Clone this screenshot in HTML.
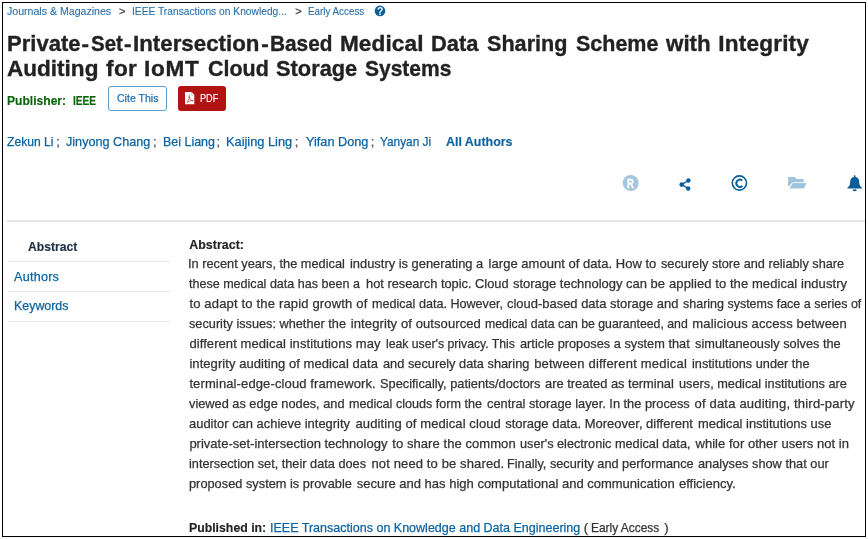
<!DOCTYPE html>
<html><head><meta charset="utf-8">
<style>
html,body{margin:0;padding:0;background:#fff;}
body{width:868px;height:539px;position:relative;overflow:hidden;font-family:"Liberation Sans",Arial,sans-serif;}
.t{position:absolute;white-space:pre;transform-origin:0 0;-webkit-text-stroke:0.25px currentColor;}
.frame{position:absolute;left:2px;top:2px;width:862px;height:533px;border:1px solid #000;}
.hr{position:absolute;background:#e3e3e3;}
.btn{position:absolute;box-sizing:border-box;border-radius:3px;}
svg{position:absolute;overflow:visible;}
</style></head>
<body>
<div class="frame"></div>
<!-- separator -->
<div class="hr" style="left:7px;top:220px;width:858px;height:2px;background:#e6e6e6"></div>
<!-- sidebar lines -->
<div class="hr" style="left:8px;top:261px;width:162px;height:1px;background:#e8e8e8"></div>
<div class="hr" style="left:8px;top:291px;width:162px;height:1px;background:#e8e8e8"></div>
<div class="hr" style="left:8px;top:321px;width:162px;height:1px;background:#e8e8e8"></div>
<!-- buttons -->
<div class="btn" style="left:108px;top:86px;width:59px;height:25px;border:1px solid #5f9ecb;"></div>
<div class="btn" style="left:178px;top:86px;width:48px;height:24.5px;background:#b11212;"></div>
<!-- pdf icon -->
<svg style="left:0;top:0" width="868" height="539">
  <path d="M185 92 H191.5 L194.3 94.8 V104.3 H185 Z" fill="#fff"/>
  <path d="M191.5 92 V94.8 H194.3" fill="none" stroke="#d9a0a0" stroke-width="0.6"/>
  <path d="M187.2 102.5 C188.5 100 190 97 189.6 95.6 C189.2 94.6 188.6 95.6 189.2 97.4 C189.9 99.3 191.5 101 192.8 101.1 C193.8 101.2 193.5 100.4 192.3 100.4 C190.6 100.4 188.3 101.5 187.2 102.5 Z" fill="none" stroke="#c0392b" stroke-width="0.7"/>
  <!-- help icon -->
  <circle cx="380" cy="10.9" r="5.3" fill="#0a5d9a"/>
  <text x="380.1" y="14.6" text-anchor="middle" font-family="Liberation Sans" font-weight="700" font-size="10.3" fill="#fff">?</text>
  <!-- R icon -->
  <circle cx="630.7" cy="183" r="8" fill="#a4c6de"/>
  <text x="627.1" y="187.7" textLength="7" lengthAdjust="spacingAndGlyphs" font-family="Liberation Sans" font-weight="700" font-size="13" fill="#fff" stroke="#fff" stroke-width="0.3">R</text>
  <!-- share -->
  <g fill="#0a5c9b" stroke="#0a5c9b">
    <line x1="681.7" y1="184.6" x2="688.4" y2="180.5" stroke-width="1.4"/>
    <line x1="681.7" y1="184.6" x2="688.2" y2="188.5" stroke-width="1.4"/>
    <circle cx="688.4" cy="180.5" r="2.2" stroke="none"/>
    <circle cx="681.7" cy="184.6" r="2.3" stroke="none"/>
    <circle cx="688.2" cy="188.5" r="2.2" stroke="none"/>
  </g>
  <!-- copyright -->
  <circle cx="739.4" cy="183" r="7.1" fill="none" stroke="#0a5c9b" stroke-width="1.6"/>
  <path d="M742.2 180.5 A3.6 3.6 0 1 0 742.4 186" fill="none" stroke="#0a5c9b" stroke-width="1.9"/>
  <!-- folder -->
  <path d="M788.1 176.9 H795 L796.4 178.9 H803.6 V183 H792 L788.1 187 Z" fill="#9ec3dc"/>
  <path d="M792.6 182.6 H807.2 L804.1 188.9 H788.7 Z" fill="#9ec3dc" stroke="#fff" stroke-width="0.9" stroke-linejoin="round"/>
  <!-- bell -->
  <path d="M854.7 175.1 C855.3 175.1 855.6 176 855.5 177.1 C857.8 177.6 859.2 179.2 859.2 181.8 C859.2 184.5 859.6 186.1 862 187.7 V188.4 H847.4 V187.7 C849.8 186.1 850.2 184.5 850.2 181.8 C850.2 179.2 851.6 177.6 853.9 177.1 C853.8 176 854.1 175.1 854.7 175.1 Z" fill="#0a5c9b"/>
  <ellipse cx="854.7" cy="190.3" rx="2" ry="1" fill="#0a5c9b"/>
</svg>
<div class="t" style="left:6.50px;top:3.80px;font-size:11.2px;line-height:15px;-webkit-text-stroke:0.12px currentColor;color:#2a70a8;transform:scaleX(0.9459);">Journals &amp; Magazines</div>
<div class="t" style="left:119.10px;top:3.80px;font-size:11.2px;line-height:15px;color:#444;">&gt;</div>
<div class="t" style="left:131.78px;top:3.80px;font-size:11.2px;line-height:15px;-webkit-text-stroke:0.12px currentColor;color:#2a70a8;transform:scaleX(0.9153);">IEEE Transactions on Knowledg...</div>
<div class="t" style="left:295.25px;top:3.80px;font-size:11.2px;line-height:15px;color:#444;">&gt;</div>
<div class="t" style="left:308.40px;top:3.80px;font-size:11.2px;line-height:15px;-webkit-text-stroke:0.12px currentColor;color:#2a70a8;transform:scaleX(0.8776);">Early Access</div>
<div class="t" style="left:6.82px;top:29.00px;font-size:22.6px;line-height:30px;font-weight:700;-webkit-text-stroke:0.35px currentColor;color:#222222;transform:scaleX(0.9757);">Private</div>
<div class="t" style="left:81.60px;top:29.00px;font-size:22.6px;line-height:30px;font-weight:700;-webkit-text-stroke:0.35px currentColor;color:#222222;">-</div>
<div class="t" style="left:91.30px;top:29.00px;font-size:22.6px;line-height:30px;font-weight:700;-webkit-text-stroke:0.35px currentColor;color:#222222;transform:scaleX(0.9064);">Set</div>
<div class="t" style="left:124.00px;top:29.00px;font-size:22.6px;line-height:30px;font-weight:700;-webkit-text-stroke:0.35px currentColor;color:#222222;">-</div>
<div class="t" style="left:132.71px;top:29.00px;font-size:22.6px;line-height:30px;font-weight:700;-webkit-text-stroke:0.35px currentColor;color:#222222;transform:scaleX(0.9876);">Intersection</div>
<div class="t" style="left:261.25px;top:29.00px;font-size:22.6px;line-height:30px;font-weight:700;-webkit-text-stroke:0.35px currentColor;color:#222222;">-</div>
<div class="t" style="left:270.48px;top:29.00px;font-size:22.6px;line-height:30px;font-weight:700;-webkit-text-stroke:0.35px currentColor;color:#222222;transform:scaleX(0.9210);">Based</div>
<div class="t" style="left:339.90px;top:29.00px;font-size:22.6px;line-height:30px;font-weight:700;-webkit-text-stroke:0.35px currentColor;color:#222222;letter-spacing:0.117px;">Medical</div>
<div class="t" style="left:431.03px;top:29.00px;font-size:22.6px;line-height:30px;font-weight:700;-webkit-text-stroke:0.35px currentColor;color:#222222;transform:scaleX(0.9668);">Data</div>
<div class="t" style="left:487.40px;top:29.00px;font-size:22.6px;line-height:30px;font-weight:700;-webkit-text-stroke:0.35px currentColor;color:#222222;transform:scaleX(0.9567);">Sharing</div>
<div class="t" style="left:575.70px;top:29.00px;font-size:22.6px;line-height:30px;font-weight:700;-webkit-text-stroke:0.35px currentColor;color:#222222;transform:scaleX(0.9513);">Scheme</div>
<div class="t" style="left:665.59px;top:29.00px;font-size:22.6px;line-height:30px;font-weight:700;-webkit-text-stroke:0.35px currentColor;color:#222222;transform:scaleX(0.9895);">with</div>
<div class="t" style="left:718.30px;top:29.00px;font-size:22.6px;line-height:30px;font-weight:700;-webkit-text-stroke:0.35px currentColor;color:#222222;letter-spacing:0.180px;">Integrity</div>
<div class="t" style="left:6.90px;top:54.20px;font-size:22.6px;line-height:30px;font-weight:700;-webkit-text-stroke:0.35px currentColor;color:#222222;transform:scaleX(0.9978);">Auditing</div>
<div class="t" style="left:106.10px;top:54.20px;font-size:22.6px;line-height:30px;font-weight:700;-webkit-text-stroke:0.35px currentColor;color:#222222;letter-spacing:0.337px;">for</div>
<div class="t" style="left:144.10px;top:54.20px;font-size:22.6px;line-height:30px;font-weight:700;-webkit-text-stroke:0.35px currentColor;color:#222222;letter-spacing:0.667px;">IoMT</div>
<div class="t" style="left:207.60px;top:54.20px;font-size:22.6px;line-height:30px;font-weight:700;-webkit-text-stroke:0.35px currentColor;color:#222222;transform:scaleX(0.9494);">Cloud</div>
<div class="t" style="left:276.30px;top:54.20px;font-size:22.6px;line-height:30px;font-weight:700;-webkit-text-stroke:0.35px currentColor;color:#222222;transform:scaleX(0.9658);">Storage</div>
<div class="t" style="left:365.20px;top:54.20px;font-size:22.6px;line-height:30px;font-weight:700;-webkit-text-stroke:0.35px currentColor;color:#222222;transform:scaleX(0.9288);">Systems</div>
<div class="t" style="left:7.10px;top:91.60px;font-size:13px;line-height:17px;font-weight:700;-webkit-text-stroke:0.15px currentColor;color:#0a650a;transform:scaleX(0.9298);">Publisher:</div>
<div class="t" style="left:73.40px;top:91.60px;font-size:13px;line-height:17px;font-weight:700;-webkit-text-stroke:0.15px currentColor;color:#0a650a;transform:scaleX(0.7812);">IEEE</div>
<div class="t" style="left:116.90px;top:90.60px;font-size:11.0px;line-height:15px;color:#2472b0;transform:scaleX(0.9590);">Cite This</div>
<div class="t" style="left:199.80px;top:90.80px;font-size:11.0px;line-height:15px;-webkit-text-stroke:0.1px currentColor;color:#ffffff;transform:scaleX(0.8348);">PDF</div>
<div class="t" style="left:7.00px;top:132.70px;font-size:13px;line-height:17px;color:#0b63a1;transform:scaleX(0.9325);">Zekun Li</div>
<div class="t" style="left:66.40px;top:132.70px;font-size:13px;line-height:17px;color:#0b63a1;transform:scaleX(0.9711);">Jinyong Chang</div>
<div class="t" style="left:162.54px;top:132.70px;font-size:13px;line-height:17px;color:#0b63a1;transform:scaleX(0.9589);">Bei Liang</div>
<div class="t" style="left:226.11px;top:132.70px;font-size:13px;line-height:17px;color:#0b63a1;transform:scaleX(0.9851);">Kaijing Ling</div>
<div class="t" style="left:305.90px;top:132.70px;font-size:13px;line-height:17px;color:#0b63a1;transform:scaleX(0.9779);">Yifan Dong</div>
<div class="t" style="left:380.20px;top:132.70px;font-size:13px;line-height:17px;color:#0b63a1;transform:scaleX(0.9104);">Yanyan Ji</div>
<div class="t" style="left:56.25px;top:132.70px;font-size:13px;line-height:17px;color:#555;">;</div>
<div class="t" style="left:153.05px;top:132.70px;font-size:13px;line-height:17px;color:#555;">;</div>
<div class="t" style="left:216.55px;top:132.70px;font-size:13px;line-height:17px;color:#555;">;</div>
<div class="t" style="left:294.75px;top:132.70px;font-size:13px;line-height:17px;color:#555;">;</div>
<div class="t" style="left:370.75px;top:132.70px;font-size:13px;line-height:17px;color:#555;">;</div>
<div class="t" style="left:445.90px;top:132.70px;font-size:13px;line-height:17px;font-weight:700;-webkit-text-stroke:0.15px currentColor;color:#0b63a1;transform:scaleX(0.9553);">All Authors</div>
<div class="t" style="left:28.30px;top:238.80px;font-size:12.6px;line-height:17px;font-weight:700;-webkit-text-stroke:0.15px currentColor;color:#1b3048;transform:scaleX(0.9635);">Abstract</div>
<div class="t" style="left:14.10px;top:268.70px;font-size:12.6px;line-height:17px;color:#0b63a1;letter-spacing:0.233px;">Authors</div>
<div class="t" style="left:13.81px;top:298.40px;font-size:12.6px;line-height:17px;color:#0b63a1;transform:scaleX(0.9852);">Keywords</div>
<div class="t" style="left:189.30px;top:237.20px;font-size:12.4px;line-height:17px;font-weight:700;-webkit-text-stroke:0.15px currentColor;color:#222;letter-spacing:0.029px;">Abstract:</div>
<div class="t" style="left:188.42px;top:255.40px;font-size:13px;line-height:17px;color:#333333;transform:scaleX(0.9824);">In recent years, the medical</div>
<div class="t" style="left:350.00px;top:255.40px;font-size:13px;line-height:17px;color:#333333;transform:scaleX(0.9913);">industry is generating a</div>
<div class="t" style="left:488.60px;top:255.40px;font-size:13px;line-height:17px;color:#333333;letter-spacing:0.030px;">large amount of data. How to</div>
<div class="t" style="left:660.70px;top:255.40px;font-size:13px;line-height:17px;color:#333333;transform:scaleX(0.9785);">securely store and reliably share</div>
<div class="t" style="left:189.40px;top:275.33px;font-size:13px;line-height:17px;color:#333333;transform:scaleX(0.9649);">these medical data has been a</div>
<div class="t" style="left:365.60px;top:275.33px;font-size:13px;line-height:17px;color:#333333;transform:scaleX(0.9869);">hot research topic. Cloud</div>
<div class="t" style="left:512.60px;top:275.33px;font-size:13px;line-height:17px;color:#333333;transform:scaleX(0.9969);">storage technology can be</div>
<div class="t" style="left:669.00px;top:275.33px;font-size:13px;line-height:17px;color:#333333;letter-spacing:0.083px;">applied to the medical industry</div>
<div class="t" style="left:189.40px;top:295.26px;font-size:13px;line-height:17px;color:#333333;letter-spacing:0.173px;">to adapt to the rapid growth of</div>
<div class="t" style="left:372.30px;top:295.26px;font-size:13px;line-height:17px;color:#333333;transform:scaleX(0.9687);">medical data. However,</div>
<div class="t" style="left:507.20px;top:295.26px;font-size:13px;line-height:17px;color:#333333;transform:scaleX(0.9960);">cloud-based data storage and</div>
<div class="t" style="left:682.90px;top:295.26px;font-size:13px;line-height:17px;color:#333333;transform:scaleX(0.9604);">sharing systems face a series of</div>
<div class="t" style="left:189.40px;top:315.19px;font-size:13px;line-height:17px;color:#333333;transform:scaleX(0.9789);">security issues: whether the</div>
<div class="t" style="left:350.80px;top:315.19px;font-size:13px;line-height:17px;color:#333333;letter-spacing:0.097px;">integrity of outsourced</div>
<div class="t" style="left:485.20px;top:315.19px;font-size:13px;line-height:17px;color:#333333;transform:scaleX(0.9444);">medical data can be guaranteed, and</div>
<div class="t" style="left:692.30px;top:315.19px;font-size:13px;line-height:17px;color:#333333;letter-spacing:0.144px;">malicious access between</div>
<div class="t" style="left:189.40px;top:335.12px;font-size:13px;line-height:17px;color:#333333;letter-spacing:0.083px;">different medical institutions may</div>
<div class="t" style="left:385.60px;top:335.12px;font-size:13px;line-height:17px;color:#333333;transform:scaleX(0.9402);">leak user's privacy. This</div>
<div class="t" style="left:519.80px;top:335.12px;font-size:13px;line-height:17px;color:#333333;transform:scaleX(0.9828);">article proposes a system that</div>
<div class="t" style="left:694.50px;top:335.12px;font-size:13px;line-height:17px;color:#333333;transform:scaleX(0.9838);">simultaneously solves the</div>
<div class="t" style="left:189.40px;top:355.05px;font-size:13px;line-height:17px;color:#333333;letter-spacing:0.066px;">integrity auditing of medical data</div>
<div class="t" style="left:383.40px;top:355.05px;font-size:13px;line-height:17px;color:#333333;transform:scaleX(0.9836);">and securely data sharing</div>
<div class="t" style="left:534.20px;top:355.05px;font-size:13px;line-height:17px;color:#333333;letter-spacing:0.195px;">between different medical</div>
<div class="t" style="left:691.50px;top:355.05px;font-size:13px;line-height:17px;color:#333333;transform:scaleX(0.9797);">institutions under the</div>
<div class="t" style="left:189.40px;top:374.98px;font-size:13px;line-height:17px;color:#333333;letter-spacing:0.121px;">terminal-edge-cloud framework.</div>
<div class="t" style="left:379.70px;top:374.98px;font-size:13px;line-height:17px;color:#333333;transform:scaleX(0.9844);">Specifically, patients/doctors</div>
<div class="t" style="left:545.30px;top:374.98px;font-size:13px;line-height:17px;color:#333333;transform:scaleX(0.9910);">are treated as terminal</div>
<div class="t" style="left:678.90px;top:374.98px;font-size:13px;line-height:17px;color:#333333;transform:scaleX(0.9806);">users, medical institutions are</div>
<div class="t" style="left:189.40px;top:394.91px;font-size:13px;line-height:17px;color:#333333;transform:scaleX(0.9826);">viewed as edge nodes, and</div>
<div class="t" style="left:349.30px;top:394.91px;font-size:13px;line-height:17px;color:#333333;transform:scaleX(0.9690);">medical clouds form the</div>
<div class="t" style="left:486.70px;top:394.91px;font-size:13px;line-height:17px;color:#333333;transform:scaleX(0.9843);">central storage layer. In the process</div>
<div class="t" style="left:694.50px;top:394.91px;font-size:13px;line-height:17px;color:#333333;letter-spacing:0.191px;">of data auditing, third-party</div>
<div class="t" style="left:189.40px;top:414.84px;font-size:13px;line-height:17px;color:#333333;transform:scaleX(0.9946);">auditor can achieve integrity</div>
<div class="t" style="left:355.50px;top:414.84px;font-size:13px;line-height:17px;color:#333333;letter-spacing:0.093px;">auditing of medical cloud</div>
<div class="t" style="left:505.20px;top:414.84px;font-size:13px;line-height:17px;color:#333333;">storage data. Moreover, different</div>
<div class="t" style="left:697.50px;top:414.84px;font-size:13px;line-height:17px;color:#333333;transform:scaleX(0.9920);">medical institutions use</div>
<div class="t" style="left:189.40px;top:434.77px;font-size:13px;line-height:17px;color:#333333;">private-set-intersection technology</div>
<div class="t" style="left:392.30px;top:434.77px;font-size:13px;line-height:17px;color:#333333;letter-spacing:0.067px;">to share the common</div>
<div class="t" style="left:520.00px;top:434.77px;font-size:13px;line-height:17px;color:#333333;transform:scaleX(0.9773);">user's electronic medical data,</div>
<div class="t" style="left:695.50px;top:434.77px;font-size:13px;line-height:17px;color:#333333;letter-spacing:0.039px;">while for other users not in</div>
<div class="t" style="left:189.40px;top:454.70px;font-size:13px;line-height:17px;color:#333333;transform:scaleX(0.9798);">intersection set, their data does</div>
<div class="t" style="left:371.50px;top:454.70px;font-size:13px;line-height:17px;color:#333333;letter-spacing:0.124px;">not need to be shared.</div>
<div class="t" style="left:507.22px;top:454.70px;font-size:13px;line-height:17px;color:#333333;transform:scaleX(0.9795);">Finally, security and performance</div>
<div class="t" style="left:698.20px;top:454.70px;font-size:13px;line-height:17px;color:#333333;transform:scaleX(0.9833);">analyses show that our</div>
<div class="t" style="left:189.40px;top:474.63px;font-size:13px;line-height:17px;color:#333333;transform:scaleX(0.9846);">proposed system is provable</div>
<div class="t" style="left:356.70px;top:474.63px;font-size:13px;line-height:17px;color:#333333;">secure and has high computational and communication</div>
<div class="t" style="left:678.90px;top:474.63px;font-size:13px;line-height:17px;color:#333333;letter-spacing:0.011px;">efficiency.</div>
<div class="t" style="left:189.30px;top:518.60px;font-size:12.8px;line-height:17px;font-weight:700;-webkit-text-stroke:0.15px currentColor;color:#222;transform:scaleX(0.9603);">Published in:</div>
<div class="t" style="left:269.54px;top:518.60px;font-size:13px;line-height:17px;color:#0b63a1;transform:scaleX(0.9626);">IEEE Transactions on Knowledge and Data Engineering</div>
<div class="t" style="left:583.80px;top:518.60px;font-size:13px;line-height:17px;color:#333333;">(</div>
<div class="t" style="left:590.98px;top:518.60px;font-size:13px;line-height:17px;color:#333333;transform:scaleX(0.9179);">Early Access</div>
<div class="t" style="left:664.15px;top:518.60px;font-size:13px;line-height:17px;color:#333333;">)</div>
</body></html>
